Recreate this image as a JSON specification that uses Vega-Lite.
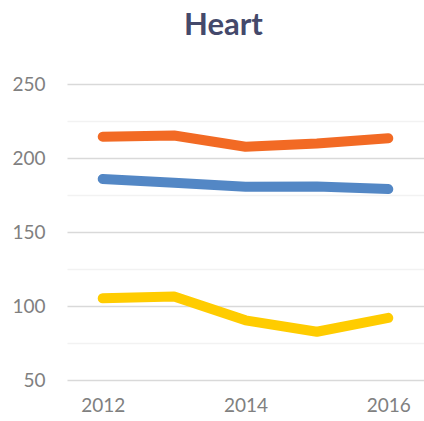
{
  "$schema": "https://vega.github.io/schema/vega-lite/v6.json",
  "width": 357,
  "height": 296,
  "autosize": {"type": "none"},
  "padding": {"left": 67, "top": 84, "right": 0, "bottom": 41},
  "background": "white",
  "config": {"view": {"stroke": null}},
  "title": {
    "text": "Heart",
    "font": "Lato",
    "fontSize": 31,
    "fontWeight": "bold",
    "color": "#44496B",
    "anchor": "middle",
    "frame": "group",
    "dx": -22,
    "offset": 33
  },
  "data": {
    "values": [
      {"year": 2012, "series": "A", "value": 214.4},
      {"year": 2013, "series": "A", "value": 215.2},
      {"year": 2014, "series": "A", "value": 207.6},
      {"year": 2015, "series": "A", "value": 209.8},
      {"year": 2016, "series": "A", "value": 213.3},
      {"year": 2012, "series": "B", "value": 185.8},
      {"year": 2013, "series": "B", "value": 183.3},
      {"year": 2014, "series": "B", "value": 180.6},
      {"year": 2015, "series": "B", "value": 180.8},
      {"year": 2016, "series": "B", "value": 179.0},
      {"year": 2012, "series": "C", "value": 105.2},
      {"year": 2013, "series": "C", "value": 106.4},
      {"year": 2014, "series": "C", "value": 90.3},
      {"year": 2015, "series": "C", "value": 82.6},
      {"year": 2016, "series": "C", "value": 92.0}
    ]
  },
  "mark": {"type": "line", "strokeWidth": 10, "strokeCap": "round", "strokeJoin": "round"},
  "encoding": {
    "x": {
      "field": "year",
      "type": "quantitative",
      "scale": {"domain": [2011.5, 2016.5], "nice": false, "zero": false},
      "axis": {
        "title": null,
        "values": [2012, 2014, 2016],
        "format": "d",
        "grid": false,
        "domain": false,
        "ticks": false,
        "labelFont": "Lato",
        "labelFontSize": 19,
        "labelColor": "#808080",
        "labelPadding": 16
      }
    },
    "y": {
      "field": "value",
      "type": "quantitative",
      "scale": {"domain": [50, 250], "nice": false, "zero": false},
      "axis": {
        "title": null,
        "values": [50, 75, 100, 125, 150, 175, 200, 225, 250],
        "labelExpr": "datum.value % 50 === 0 ? datum.label : ''",
        "gridColor": {"condition": {"test": "datum.value % 50 === 0", "value": "#D9D9D9"}, "value": "#F2F2F2"},
        "gridWidth": 1.5,
        "domain": false,
        "ticks": false,
        "labelFont": "Lato",
        "labelFontSize": 19,
        "labelColor": "#808080",
        "labelPadding": 22
      }
    },
    "color": {
      "field": "series",
      "type": "nominal",
      "scale": {"domain": ["A", "B", "C"], "range": ["#F26A24", "#5387C5", "#FFCC00"]},
      "legend": null
    }
  }
}
